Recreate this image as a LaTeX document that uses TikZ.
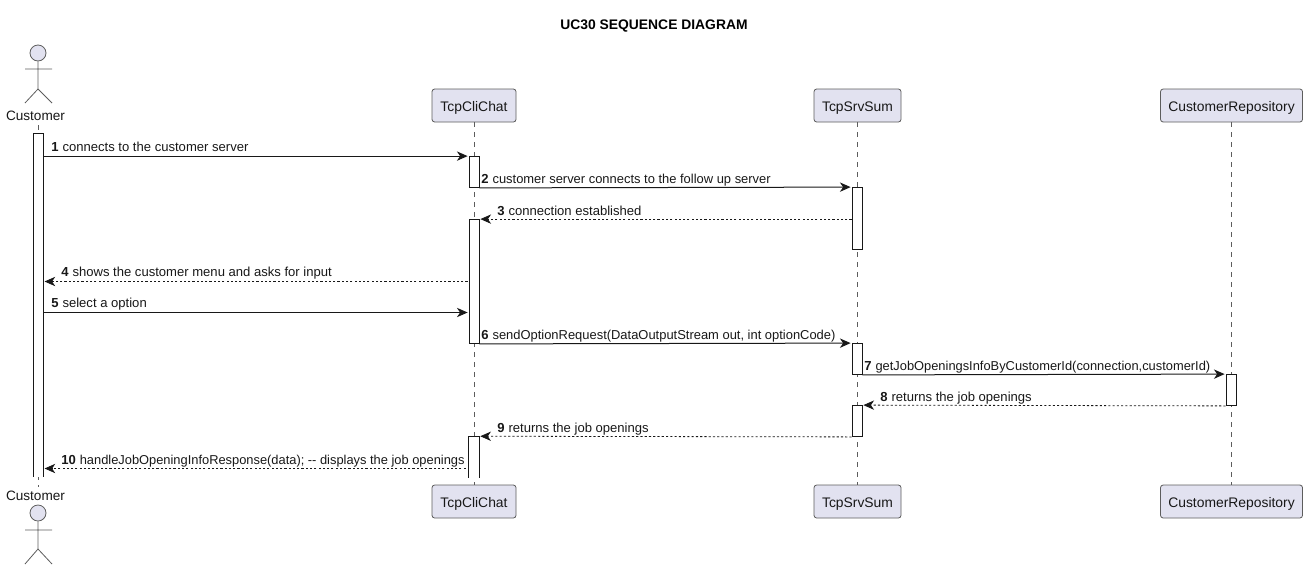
\documentclass[tikz,border=0pt]{standalone}
\usepackage{fontspec}
\setmainfont{Liberation Sans}
\usetikzlibrary{arrows.meta}
\definecolor{ink}{HTML}{181818}
\definecolor{partfill}{HTML}{E2E2F0}
\tikzset{
  x=0.75pt,y=-0.75pt,
  part/.style={draw=ink!70,line width=0.6pt,fill=partfill,rounded corners=2pt,inner sep=0pt,minimum height=24.75pt,text height=11pt,text depth=2pt,font=\fontsize{10.4}{12}\selectfont,text=ink},
  actorname/.style={inner sep=0pt,font=\fontsize{10.2}{12}\selectfont,text=ink},
  head/.style={circle,draw=ink!70,line width=0.6pt,fill=partfill,minimum size=12pt,inner sep=0pt},
  limb/.style={draw=ink!70,line width=0.6pt},
  life/.style={draw=ink!70,line width=0.5pt,dash pattern=on 3.75pt off 3.75pt},
  bar/.style={draw=ink,line width=0.6pt,fill=white,inner sep=0pt,minimum width=7.5pt},
  openbar/.style={draw=none,fill=white,inner sep=0pt,minimum width=7.5pt},
  edge/.style={draw=ink,line width=0.6pt},
  call/.style={draw=ink,line width=0.75pt,-{Stealth[length=8pt,width=7pt,inset=2.4pt]}},
  reply/.style={draw=ink,line width=0.6pt,dash pattern=on 1.6pt off 1.6pt,-{Stealth[length=8pt,width=7pt,inset=2.4pt]}},
  msg/.style={anchor=base west,inner sep=0pt,font=\fontsize{9.8}{11}\selectfont,text=ink},
  msgnarrow/.style={msg,font=\fontsize{9.7}{11}\selectfont},
  msgtight/.style={msg,font=\fontsize{9.65}{11}\selectfont},
}
\newcommand{\num}[1]{{\fontsize{9.8}{11}\selectfont\bfseries #1}\hspace{3pt}}
\begin{document}
\begin{tikzpicture}
\useasboundingbox (0,0) rectangle (1308,568);
\node[inner sep=0pt,font=\fontsize{10.4}{12}\selectfont\bfseries,text=black] (title) at (654,26.5) {UC30 SEQUENCE DIAGRAM};

% participants
\node[part,minimum width=63pt] (cliT) at (474,105.5) {TcpCliChat};
\node[part,minimum width=65.25pt] (srvT) at (857.5,105.5) {TcpSrvSum};
\node[part,minimum width=106.5pt] (repT) at (1231.5,105.5) {CustomerRepository};
\node[part,minimum width=63pt] (cliB) at (474,501.5) {TcpCliChat};
\node[part,minimum width=65.25pt] (srvB) at (857.5,501.5) {TcpSrvSum};
\node[part,minimum width=106.5pt] (repB) at (1231.5,501.5) {CustomerRepository};
\node[actorname] (custT) at (35.5,116) {Customer};
\node[actorname] (custB) at (35.5,496) {Customer};

% lifelines
\draw[life] (custT.south -| 38,0) ++(0,4) -- (38,487);
\draw[life] (cliT.south) -- (cliB.north);
\draw[life] (srvT.south) -- (srvB.north);
\draw[life] (repT.south) -- (repB.north);

% actors
\node[head] (hT) at (38,53) {};
\draw[limb] (hT.south) -- (38,89) -- (25,103) (38,89) -- (52,103) (25,69) -- (52,69);
\node[head] (hB) at (38,513) {};
\draw[limb] (hB.south) -- (38,549) -- (25,564) (38,549) -- (52,564) (25,530) -- (52,530);

% activation bars
\node[openbar,minimum height=257.25pt] (a0) at (38.3,305) {};
\draw[edge] (a0.south west) -- (a0.north west) -- (a0.north east) -- (a0.south east);
\node[bar,minimum height=23.25pt] (c1) at (474,172) {};
\node[bar,minimum height=93pt] (c2) at (474,281.5) {};
\node[openbar,minimum height=30.75pt] (c3) at (474,457) {};
\draw[edge] (c3.south west) -- (c3.north west) -- (c3.north east) -- (c3.south east);
\node[bar,minimum height=46.5pt] (s1) at (857,218.5) {};
\node[bar,minimum height=23.25pt] (s2) at (857,359) {};
\node[bar,minimum height=23.25pt] (s3) at (857,421) {};
\node[bar,minimum height=23.25pt] (r1) at (1231,390) {};

% message ends that fall beside a bar
\coordinate (m1a) at (a0.east |- c1.north);
\coordinate (m4b) at (a0.east |- 0,281.5);
\coordinate (m5a) at (a0.east |- 0,312.5);
\coordinate (m10b) at (a0.east |- 0,468.5);

% messages
\draw[call] (m1a) -- ([xshift=-0.75pt]c1.north west);
\draw[call] (c1.south east) -- ([xshift=-0.75pt]s1.north west);
\draw[reply] (s1.west |- c2.north) -- ([xshift=0.75pt]c2.north east);
\draw[reply] ([xshift=-0.75pt]c2.west |- m4b) -- ([xshift=0.75pt]m4b);
\draw[call] (m5a) -- ([xshift=-0.75pt]c2.west |- m5a);
\draw[call] (c2.south east) -- ([xshift=-0.75pt]s2.north west);
\draw[call] (s2.south east) -- ([xshift=-0.75pt]r1.north west);
\draw[reply] (r1.south west) -- ([xshift=0.75pt]s3.north east);
\draw[reply] (s3.south west) -- ([xshift=0.75pt]c3.north east);
\draw[reply] ([xshift=-2.25pt]c3.west |- m10b) -- ([xshift=0.75pt]m10b);

% labels
\node[msg] (l1) at (51,151) {\num{1}connects to the customer server};
\node[msgnarrow] (l2) at (481,183) {\num{2}customer server connects to the follow up server};
\node[msg] (l3) at (497,215) {\num{3}connection established};
\node[msg] (l4) at (61,276) {\num{4}shows the customer menu and asks for input};
\node[msg] (l5) at (51,307) {\num{5}select a option};
\node[msgnarrow] (l6) at (481,339) {\num{6}sendOptionRequest(DataOutputStream out, int optionCode)};
\node[msgtight] (l7) at (864,370) {\num{7}getJobOpeningsInfoByCustomerId(connection,customerId)};
\node[msg] (l8) at (880,401) {\num{8}returns the job openings};
\node[msg] (l9) at (497,432) {\num{9}returns the job openings};
\node[msgtight] (l10) at (61,464) {\num{10}handleJobOpeningInfoResponse(data); -{}- displays the job openings};
\end{tikzpicture}
\end{document}
